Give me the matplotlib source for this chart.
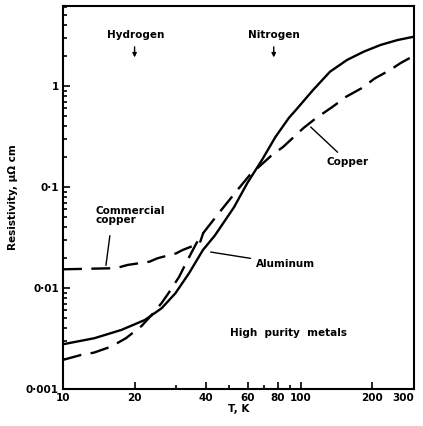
import matplotlib
matplotlib.use("Agg")
import matplotlib.pyplot as plt
from matplotlib.ticker import FixedLocator, NullFormatter

# --- data (T in K, resistivity in micro-ohm cm) ---
al_T = [10, 13.55, 17.6, 22.1, 26.0, 29.7, 33.9, 38.8, 43.5, 52.4, 59.7, 68.7, 78.3, 89.1, 95.4,
        112.7, 132.8, 156.6, 184.4, 216.9, 255.3, 300]
al_rho = [0.00277, 0.00318, 0.00384, 0.00482, 0.0063, 0.00886, 0.0140, 0.0238, 0.033, 0.063, 0.110,
          0.185, 0.313, 0.482, 0.578, 0.912, 1.385, 1.81, 2.19, 2.55, 2.85, 3.08]

cu_T = [10, 11.9, 13.5, 15.9, 18.4, 21.4, 23.6, 26.0, 27.8, 30.8, 32.9, 36.4, 38.9, 45.2,
        54.1, 61.0, 75.7, 84.3, 102.8, 115.8, 136.4, 155.4, 180.1, 205.2, 237.7, 262.4, 300]
cu_rho = [0.00194, 0.00217, 0.00229, 0.00262, 0.00318, 0.0042, 0.0054, 0.0071, 0.0089, 0.0129,
          0.0176, 0.0277, 0.035, 0.055, 0.093, 0.131, 0.207, 0.249, 0.384, 0.479, 0.624, 0.783,
          0.949, 1.19, 1.44, 1.68, 2.0]

com_T = [10, 16.7, 18.7, 23.1, 25.0, 29.9, 31.9, 37.6, 38.9]
com_rho = [0.0153, 0.0157, 0.0169, 0.0182, 0.0197, 0.022, 0.0238, 0.0277, 0.035]

x_ticks = [10, 20, 40, 60, 80, 100, 200, 300]
x_minor = [30, 50, 70, 90]
y_ticks = [0.001, 0.01, 0.1, 1]
y_labels = ["0\u00b7001", "0\u00b701", "0\u00b71", "1"]

FONT = dict(fontweight="bold", fontsize=7.5, family="DejaVu Sans")

fig = plt.figure(figsize=(4.23, 4.26), dpi=100)
ax = fig.add_axes([0.149, 0.087, 0.830, 0.899])
ax.set_xscale("log")
ax.set_yscale("log")

dash = (0, (8, 4))
ax.plot(al_T, al_rho, color="black", lw=1.7)
ax.plot(cu_T, cu_rho, color="black", lw=1.7, linestyle=dash)
ax.plot(com_T, com_rho, color="black", lw=1.7, linestyle=dash)

ax.set_xlim(10, 300)
ax.set_ylim(0.001, 6.2)

ax.xaxis.set_major_locator(FixedLocator(x_ticks))
ax.set_xticklabels([str(t) for t in x_ticks])
ax.xaxis.set_minor_locator(FixedLocator(x_minor))
ax.xaxis.set_minor_formatter(NullFormatter())
ax.set_yticks(y_ticks)
ax.set_yticklabels(y_labels)
ax.yaxis.set_minor_locator(FixedLocator(
    [m * 10.0 ** e for e in range(-3, 1) for m in range(2, 10) if m * 10.0 ** e < 6.2]))
ax.yaxis.set_minor_formatter(NullFormatter())

ax.tick_params(which="both", direction="in", top=False, right=False, width=1.2)
ax.tick_params(which="major", length=5, labelsize=7.5, pad=3)
ax.tick_params(which="minor", length=3)
for lab in ax.get_xticklabels() + ax.get_yticklabels():
    lab.set_fontweight("bold")
ax.get_xticklabels()[-1].set_horizontalalignment("right")
for sp in ax.spines.values():
    sp.set_linewidth(1.5)

ax.set_xlabel("T, K", labelpad=1, **FONT)
ax.set_ylabel("Resistivity, \u03bc\u03a9 cm", labelpad=6, **FONT)

# boiling point markers
arrow = dict(arrowstyle="-|>", color="black", lw=1.0, mutation_scale=6)
ax.text(20.3, 3.2, "Hydrogen", ha="center", va="center", **FONT)
ax.annotate("", xy=(20.0, 1.8), xytext=(20.0, 2.6), arrowprops=arrow)
ax.text(77, 3.2, "Nitrogen", ha="center", va="center", **FONT)
ax.annotate("", xy=(77, 1.8), xytext=(77, 2.6), arrowprops=arrow)

line = dict(arrowstyle="-", color="black", lw=1.0)
ax.annotate("Copper", xy=(108, 0.41), xytext=(158, 0.177), ha="center", va="center",
            arrowprops=line, **FONT)
ax.annotate("Aluminum", xy=(40.7, 0.0229), xytext=(86.4, 0.0173), ha="center", va="center",
            arrowprops=line, **FONT)
ax.text(13.7, 0.052, "Commercial\ncopper", ha="left", va="center", linespacing=0.95, **FONT)
ax.annotate("", xy=(15.1, 0.0157), xytext=(15.8, 0.035), arrowprops=line)
ax.text(88.8, 0.0036, "High  purity  metals", ha="center", va="center", **FONT)

fig.savefig("out.png", dpi=100)
